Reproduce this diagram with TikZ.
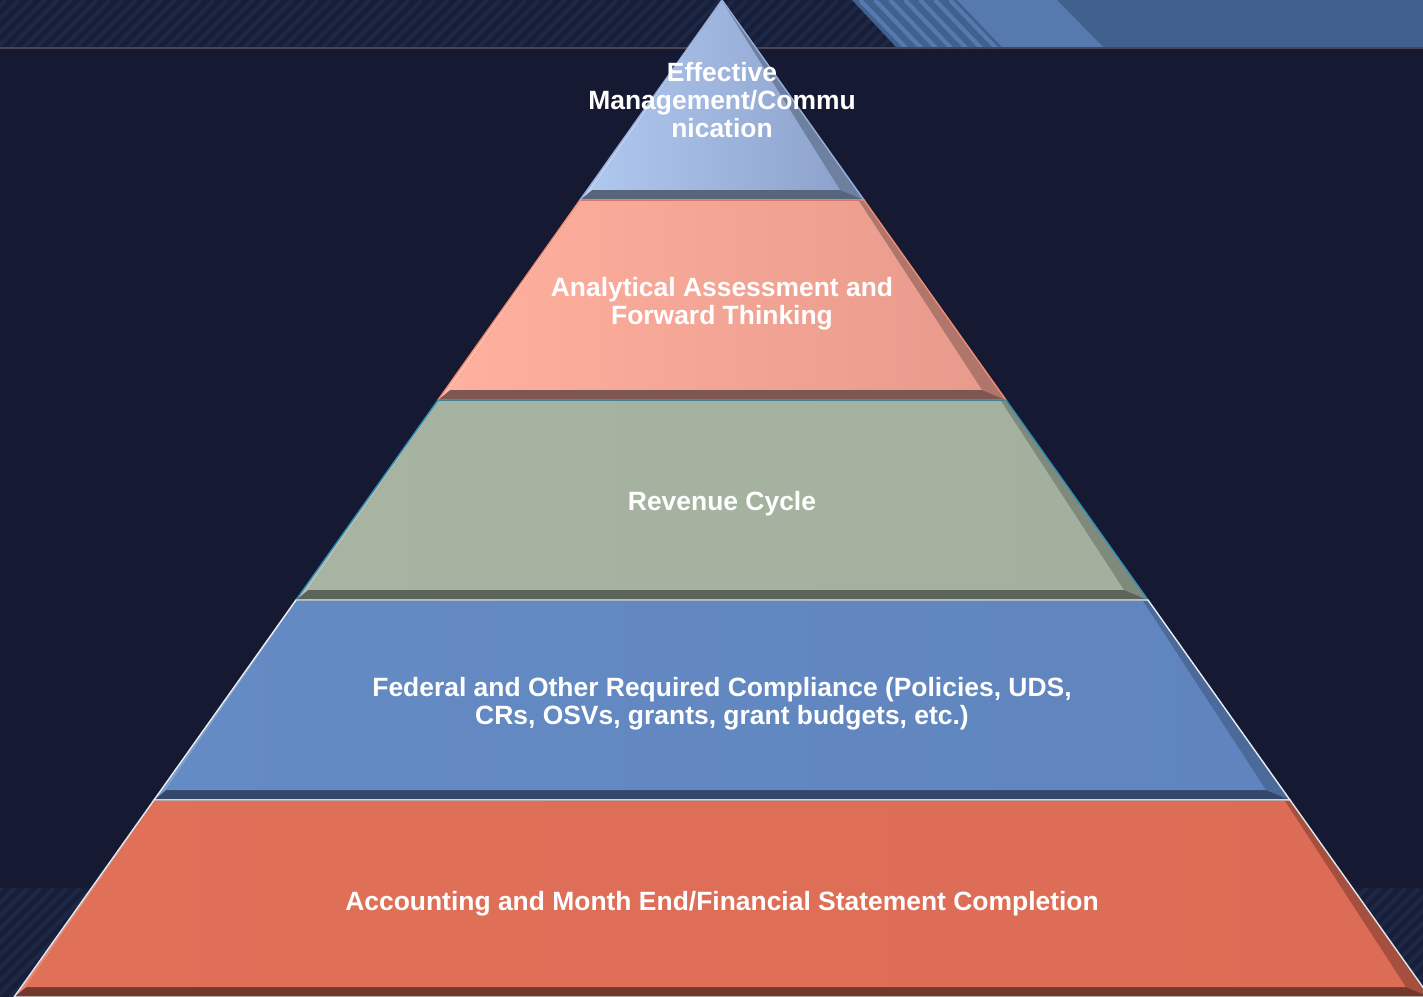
\documentclass[tikz,border=0pt]{standalone}
\usepackage{fontspec}
\setmainfont{Liberation Sans}
\usepackage{color}

\definecolor{grund}{RGB}{21,26,50}
\definecolor{bandgrund}{RGB}{23,30,56}
\definecolor{streifen}{RGB}{30,39,70}
\definecolor{hellblau}{RGB}{86,121,174}
\definecolor{dunkelblau}{RGB}{64,96,142}
\definecolor{linie}{RGB}{75,68,84}

\definecolor{einsL}{RGB}{176,199,238}
\definecolor{einsR}{RGB}{141,163,205}
\definecolor{einsS}{RGB}{110,128,160}
\definecolor{einsB}{RGB}{86,100,124}
\definecolor{einsK}{RGB}{150,175,220}

\definecolor{zweiL}{RGB}{255,176,158}
\definecolor{zweiR}{RGB}{232,154,140}
\definecolor{zweiS}{RGB}{176,118,108}
\definecolor{zweiB}{RGB}{126,86,82}
\definecolor{zweiK}{RGB}{240,140,115}

\definecolor{dreiL}{RGB}{168,180,162}
\definecolor{dreiR}{RGB}{164,176,158}
\definecolor{dreiS}{RGB}{126,138,124}
\definecolor{dreiB}{RGB}{92,100,89}
\definecolor{dreiK}{RGB}{50,140,180}

\definecolor{vierL}{RGB}{101,139,196}
\definecolor{vierR}{RGB}{96,133,190}
\definecolor{vierS}{RGB}{75,106,154}
\definecolor{vierB}{RGB}{52,71,106}
\definecolor{vierK}{RGB}{232,238,245}

\definecolor{fuenfL}{RGB}{224,112,88}
\definecolor{fuenfR}{RGB}{220,108,85}
\definecolor{fuenfS}{RGB}{165,80,63}
\definecolor{fuenfB}{RGB}{116,57,45}
\definecolor{fuenfK}{RGB}{225,230,238}

\tikzset{stufentext/.style={text=white,align=center,font=\bfseries\fontsize{18.8}{19.8}\selectfont}}

\begin{document}
\begin{tikzpicture}[x=0.025cm,y=-0.025cm,thick]

\useasboundingbox (0,0) rectangle (1423,997);
\fill[grund] (0,0) rectangle (1423,997);

\def\band#1#2{
\begin{scope}
	\clip (0,#1) rectangle (1423,#2);
	\fill[bandgrund] (0,#1) rectangle (1423,#2);
	\foreach \x in {-120,-107,...,1430}{
		\draw[streifen,line width=2.8pt] (\x,#2)--({\x+#2-#1},#1);
	}
\end{scope}
}

\def\stufe#1#2#3#4#5#6#7#8{
\fill[#7] ({722-0.71*#1},#1)--({722+0.71*#1},#1)--({722+0.71*#2},#2)--({722-0.71*#2},#2)--cycle;
\fill[#6] ({722+0.71*#1},#1)--({722+0.71*#2},#2)--({722+0.71*#2-24},{#2-10})--({722+0.71*#1-#3},{#1+1})--cycle;
\fill[#4!85!white] ({722-0.71*#1},#1)--({722-0.71*#1+#3*0.2},{#1+1})--({722-0.71*#2+12},{#2-10})--({722-0.71*#2},#2)--cycle;
\shade[left color=#4,right color=#5] ({722-0.71*#1+#3*0.2},{#1+1})--({722+0.71*#1-#3},{#1+1})--
	({722+0.71*#2-24},{#2-10})--({722-0.71*#2+12},{#2-10})--cycle;
\draw[#8,line width=1pt] ({722-0.71*#1},#1)--({722+0.71*#1},#1)--({722+0.71*#2},#2)--({722-0.71*#2},#2)--cycle;
}

\band{0}{48}
\band{888}{997}

\fill[dunkelblau] (852,0)--(1423,0)--(1423,48)--(897,48)--cycle;
\foreach \x in {860,875,...,950}{
	\draw[hellblau,line width=3pt] (\x,0)--({\x+46},48);
}
\fill[hellblau] (957,0)--(1057,0)--(1104,48)--(1003,48)--cycle;
\draw[linie,line width=1pt] (0,48)--(1423,48);

\stufe{0}{200}{0}{einsL}{einsR}{einsS}{einsB}{einsK}
\stufe{200}{400}{5}{zweiL}{zweiR}{zweiS}{zweiB}{zweiK}
\stufe{400}{600}{5}{dreiL}{dreiR}{dreiS}{dreiB}{dreiK}
\stufe{600}{800}{5}{vierL}{vierR}{vierS}{vierB}{vierK}
\stufe{800}{997}{5}{fuenfL}{fuenfR}{fuenfS}{fuenfB}{fuenfK}

\node[stufentext] (effektiv) at (722,100) {Effective\\Management/Commu\\nication};
\node[stufentext] (analyse) at (722,304) {Analytical Assessment and\\Forward Thinking};
\node[stufentext] (umsatz) at (722,504) {Revenue Cycle};
\node[stufentext] (vorgaben) at (722,704) {Federal and Other Required Compliance (Policies, UDS,\\CRs, OSVs, grants, grant budgets, etc.)};
\node[stufentext] (abschluss) at (722,904) {Accounting and Month End/Financial Statement Completion};

\end{tikzpicture}
\end{document}
